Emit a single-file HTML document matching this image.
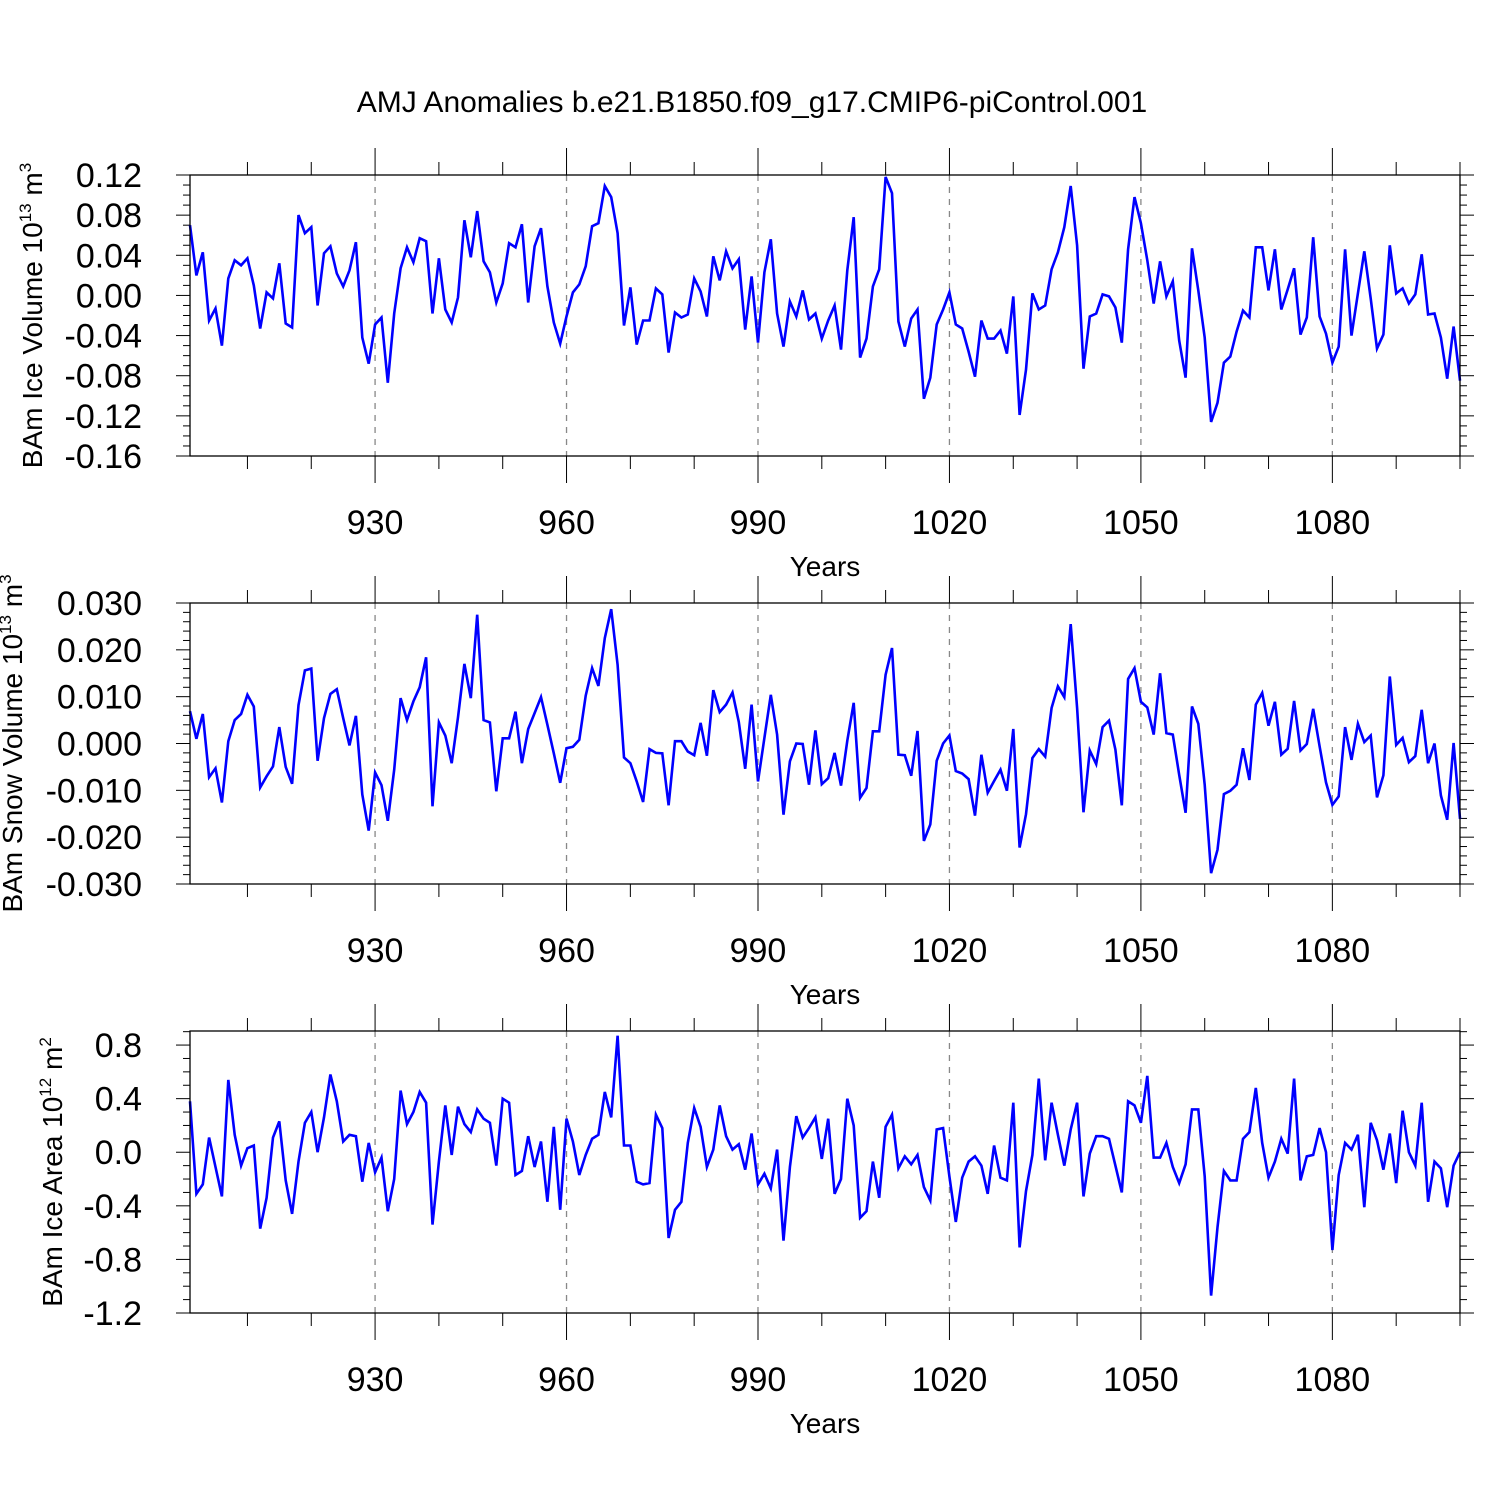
<!DOCTYPE html>
<html><head><meta charset="utf-8"><style>
html,body{margin:0;padding:0;background:#fff;}
svg{display:block;font-family:"Liberation Sans",Arial,sans-serif;}
</style></head><body>
<svg id="chart" width="1500" height="1500" viewBox="0 0 1500 1500" xmlns="http://www.w3.org/2000/svg">
<rect width="1500" height="1500" fill="#fff"/>
<text x="752" y="112" font-size="30" text-anchor="middle">AMJ Anomalies b.e21.B1850.f09_g17.CMIP6-piControl.001</text>
</svg>
<script>
const years = [];
for (let y = 901; y <= 1100; y++) years.push(y);
const xTickLabels = [930, 960, 990, 1020, 1050, 1080];

const iceVolume = [
0.070,0.020,0.043,-0.025,-0.013,-0.050,0.017,0.035,0.030,0.037,
0.010,-0.033,0.003,-0.003,0.032,-0.028,-0.032,0.080,0.062,0.068,
-0.010,0.042,0.049,0.022,0.009,0.025,0.053,-0.042,-0.068,-0.029,
-0.022,-0.087,-0.018,0.027,0.048,0.033,0.057,0.054,-0.018,0.037,
-0.014,-0.027,-0.002,0.075,0.038,0.084,0.034,0.023,-0.007,0.012,
0.052,0.048,0.071,-0.007,0.049,0.067,0.009,-0.027,-0.048,-0.021,
0.003,0.011,0.029,0.069,0.072,0.109,0.098,0.062,-0.030,0.008,
-0.049,-0.025,-0.025,0.007,0.001,-0.057,-0.017,-0.022,-0.019,0.017,
0.004,-0.021,0.039,0.015,0.044,0.027,0.036,-0.034,0.019,-0.047,
0.023,0.056,-0.018,-0.051,-0.006,-0.021,0.005,-0.024,-0.018,-0.043,
-0.025,-0.010,-0.054,0.025,0.078,-0.062,-0.043,0.009,0.026,0.118,
0.102,-0.026,-0.051,-0.023,-0.014,-0.103,-0.082,-0.029,-0.014,0.003,
-0.029,-0.033,-0.056,-0.081,-0.025,-0.043,-0.043,-0.035,-0.058,-0.001,
-0.119,-0.074,0.002,-0.014,-0.010,0.026,0.043,0.068,0.109,0.050,
-0.073,-0.021,-0.018,0.001,-0.001,-0.012,-0.047,0.046,0.098,0.072,
0.035,-0.008,0.034,-0.001,0.014,-0.045,-0.082,0.047,0.005,-0.042,
-0.126,-0.107,-0.067,-0.061,-0.036,-0.015,-0.022,0.048,0.048,0.005,
0.046,-0.014,0.006,0.027,-0.039,-0.022,0.058,-0.021,-0.038,-0.067,
-0.051,0.046,-0.040,0.002,0.044,-0.003,-0.053,-0.039,0.050,0.002,
0.007,-0.008,0.001,0.041,-0.019,-0.018,-0.042,-0.083,-0.031,-0.085];

const snowVolume = [
0.0069,0.0010,0.0063,-0.0072,-0.0053,-0.0126,0.0005,0.0050,0.0063,0.0104,
0.0079,-0.0094,-0.0070,-0.0049,0.0035,-0.0050,-0.0086,0.0082,0.0156,0.0160,
-0.0037,0.0054,0.0106,0.0116,0.0054,-0.0004,0.0059,-0.0109,-0.0186,-0.0062,
-0.0089,-0.0165,-0.0056,0.0097,0.0050,0.0090,0.0120,0.0184,-0.0134,0.0045,
0.0017,-0.0042,0.0056,0.0170,0.0097,0.0275,0.0050,0.0045,-0.0102,0.0011,
0.0011,0.0068,-0.0042,0.0031,0.0065,0.0099,0.0040,-0.0021,-0.0084,-0.0010,
-0.0007,0.0008,0.0102,0.0161,0.0123,0.0225,0.0287,0.0168,-0.0030,-0.0042,
-0.0081,-0.0125,-0.0012,-0.0020,-0.0021,-0.0132,0.0005,0.0005,-0.0017,-0.0025,
0.0044,-0.0026,0.0114,0.0067,0.0083,0.0109,0.0046,-0.0054,0.0083,-0.0081,
0.0012,0.0104,0.0019,-0.0152,-0.0038,0.0000,-0.0001,-0.0088,0.0028,-0.0087,
-0.0074,-0.0020,-0.0090,0.0006,0.0087,-0.0116,-0.0095,0.0026,0.0026,0.0147,
0.0204,-0.0024,-0.0025,-0.0069,0.0027,-0.0208,-0.0173,-0.0037,0.0000,0.0017,
-0.0059,-0.0064,-0.0076,-0.0154,-0.0024,-0.0105,-0.0080,-0.0056,-0.0101,0.0031,
-0.0222,-0.0151,-0.0031,-0.0012,-0.0028,0.0076,0.0122,0.0099,0.0255,0.0076,
-0.0147,-0.0015,-0.0044,0.0035,0.0049,-0.0013,-0.0132,0.0138,0.0161,0.0089,
0.0077,0.0019,0.0150,0.0022,0.0019,-0.0067,-0.0148,0.0079,0.0042,-0.0088,
-0.0277,-0.0227,-0.0108,-0.0101,-0.0088,-0.0010,-0.0078,0.0083,0.0108,0.0038,
0.0089,-0.0024,-0.0011,0.0091,-0.0015,-0.0001,0.0074,-0.0006,-0.0083,-0.0131,
-0.0113,0.0035,-0.0035,0.0042,0.0003,0.0017,-0.0115,-0.0068,0.0143,-0.0003,
0.0012,-0.0040,-0.0027,0.0072,-0.0042,0.0000,-0.0111,-0.0163,0.0001,-0.0161];

const iceArea = [
0.38,-0.31,-0.24,0.11,-0.11,-0.33,0.54,0.13,-0.10,0.03,
0.05,-0.57,-0.34,0.11,0.23,-0.21,-0.46,-0.07,0.22,0.30,
0.00,0.26,0.58,0.38,0.08,0.13,0.12,-0.22,0.07,-0.15,
-0.04,-0.44,-0.20,0.46,0.21,0.30,0.45,0.37,-0.54,-0.07,
0.35,-0.02,0.34,0.21,0.15,0.32,0.25,0.22,-0.10,0.40,
0.37,-0.17,-0.14,0.12,-0.11,0.08,-0.37,0.19,-0.43,0.25,
0.08,-0.17,-0.02,0.10,0.13,0.45,0.26,0.87,0.05,0.05,
-0.22,-0.24,-0.23,0.28,0.18,-0.64,-0.43,-0.37,0.07,0.33,
0.19,-0.11,0.02,0.35,0.12,0.02,0.06,-0.13,0.14,-0.24,
-0.16,-0.27,0.02,-0.66,-0.11,0.27,0.11,0.18,0.26,-0.05,
0.25,-0.31,-0.20,0.40,0.20,-0.49,-0.44,-0.07,-0.34,0.19,
0.28,-0.12,-0.03,-0.09,-0.02,-0.26,-0.36,0.17,0.18,-0.18,
-0.52,-0.19,-0.07,-0.03,-0.10,-0.31,0.05,-0.19,-0.21,0.37,
-0.71,-0.29,-0.02,0.55,-0.06,0.37,0.13,-0.10,0.17,0.37,
-0.33,-0.01,0.12,0.12,0.10,-0.10,-0.30,0.38,0.35,0.22,
0.57,-0.04,-0.04,0.07,-0.11,-0.23,-0.09,0.32,0.32,-0.18,
-1.07,-0.56,-0.14,-0.21,-0.21,0.10,0.15,0.48,0.07,-0.19,
-0.07,0.10,-0.01,0.55,-0.21,-0.03,-0.02,0.18,0.00,-0.73,
-0.17,0.07,0.02,0.13,-0.41,0.22,0.09,-0.13,0.14,-0.23,
0.31,0.00,-0.10,0.37,-0.37,-0.07,-0.12,-0.41,-0.10,0.00];

const iceVolTicks = ["0.12","0.08","0.04","0.00","-0.04","-0.08","-0.12","-0.16"];
const snowVolTicks = ["0.030","0.020","0.010","0.000","-0.010","-0.020","-0.030"];
const iceAreaTicks = ["0.8","0.4","0.0","-0.4","-0.8","-1.2"];

const NS = "http://www.w3.org/2000/svg";
const svg = document.getElementById("chart");
const X0 = 190, X1 = 1460, XMIN = 901, XMAX = 1100;
function xScale(v){ return X0 + (v - XMIN) / (XMAX - XMIN) * (X1 - X0); }
function mk(tag, attrs, parent){
  const e = document.createElementNS(NS, tag);
  for (const k in attrs) e.setAttribute(k, attrs[k]);
  (parent || svg).appendChild(e);
  return e;
}

const panels = [
  {key:"ice-volume", top:175, bot:456, ymin:-0.16, ymax:0.12, major:0.04, minor:0.01, labels:iceVolTicks, data:iceVolume,
   title:["BAm Ice Volume 10","13"," m","3"], tx:42},
  {key:"snow-volume", top:603, bot:884, ymin:-0.03, ymax:0.03, major:0.01, minor:0.002, labels:snowVolTicks, data:snowVolume,
   title:["BAm Snow Volume 10","13"," m","3"], tx:22},
  {key:"ice-area", top:1031, bot:1313, ymin:-1.2, ymax:0.905, major:0.4, minor:0.1, labels:iceAreaTicks, data:iceArea,
   title:["BAm Ice Area 10","12"," m","2"], tx:62}
];

panels.forEach(p => {
  const g = mk("g", {});
  
  
  const yS = v => p.bot - (v - p.ymin) / (p.ymax - p.ymin) * (p.bot - p.top);
  xTickLabels.forEach(t => {
    const l = mk("line", {x1:xScale(t), x2:xScale(t), y1:p.top, y2:p.bot, stroke:"#888", "stroke-width":1.3, "stroke-dasharray":"6,6"}, g);
    
    
  });
  for (let t = 910; t <= 1100; t += 10) {
    const maj = (t % 30 === 0);
    const len = maj ? 27 : 13;
    const x = xScale(t);
    mk("line", {x1:x, x2:x, y1:p.top, y2:p.top - len, stroke:"#000", "stroke-width":1}, g);
    mk("line", {x1:x, x2:x, y1:p.bot, y2:p.bot + len, stroke:"#000", "stroke-width":1}, g);
  }
  xTickLabels.forEach(t => {
    const tx = mk("text", {x:xScale(t), y:p.bot + 78, "font-size":34, "text-anchor":"middle"}, g);
    
    
    tx.textContent = t;
  });
  const xt = mk("text", {x:825, y:p.bot + 120, "font-size":28, "text-anchor":"middle"}, g);
  
  
  xt.textContent = "Years";
  const nMin = Math.round((p.ymax - p.ymin) / p.minor);
  for (let i = 0; i <= nMin + 1; i++) {
    const v = p.ymin + i * p.minor;
    if (v > p.ymax + 1e-9) break;
    const r = v / p.major;
    const maj = Math.abs(r - Math.round(r)) < 1e-6;
    const len = maj ? 14 : 7;
    const y = yS(v);
    mk("line", {x1:X0, x2:X0 - len, y1:y, y2:y, stroke:"#000", "stroke-width":1}, g);
    mk("line", {x1:X1, x2:X1 + len, y1:y, y2:y, stroke:"#000", "stroke-width":1}, g);
  }
  p.labels.forEach(s => {
    const tl = mk("text", {x:142, y:yS(parseFloat(s)) + 12, "font-size":34, "text-anchor":"end"}, g);
    
    
    tl.textContent = s;
  });
  const cy = (p.top + p.bot) / 2;
  const yt = mk("text", {x:0, y:0, "font-size":28, "text-anchor":"middle", transform:`translate(${p.tx},${cy}) rotate(-90)`}, g);
  
  
  const t1 = mk("tspan", {}, yt); t1.textContent = p.title[0];
  const t2 = mk("tspan", {dy:-11, "font-size":17}, yt); t2.textContent = p.title[1];
  const t3 = mk("tspan", {dy:11}, yt); t3.textContent = p.title[2];
  const t4 = mk("tspan", {dy:-11, "font-size":17}, yt); t4.textContent = p.title[3];
  const pts = p.data.map((v, i) => xScale(years[i]).toFixed(1) + "," + yS(v).toFixed(1)).join(" ");
  const line = mk("polyline", {points:pts, fill:"none", stroke:"#0000ff", "stroke-width":2.6, "stroke-linejoin":"miter"}, g);
  
  
  const fr = mk("rect", {x:X0, y:p.top, width:X1 - X0, height:p.bot - p.top, fill:"none", stroke:"#000", "stroke-width":1.3}, g);
  
  
});
</script>
</body></html>
